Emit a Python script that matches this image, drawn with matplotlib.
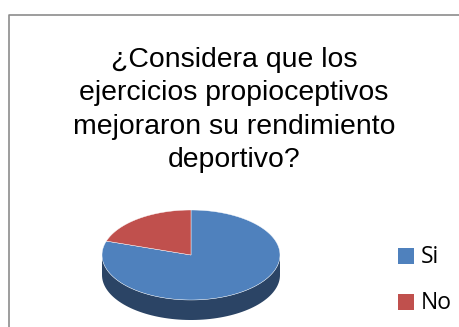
import numpy as np
import matplotlib
matplotlib.use("Agg")
import matplotlib.pyplot as plt
from matplotlib.patches import Polygon, Rectangle

# --- data ---------------------------------------------------------------
labels = ["Si", "No"]
values = [80, 20]
colors = ["#4f81bd", "#c0504d"]
side_colors = ["#2b4465", "#7d3432"]
title = "¿Considera que los\nejercicios propioceptivos\nmejoraron su rendimiento\ndeportivo?"

# figure in pixel coordinates (y grows downward)
fig = plt.figure(figsize=(4.6, 3.27), dpi=100)
ax = fig.add_axes([0, 0, 1, 1])
ax.set_xlim(0, 460)
ax.set_ylim(327, 0)
ax.axis("off")

# chart border (only left and top visible in the crop)
ax.plot([9.5, 9.5, 460], [327, 14.5, 14.5], color="#8c8c8c", lw=1.2)

ax.text(234, 110, title, ha="center", va="center", fontsize=20.4,
        family="Liberation Sans", linespacing=1.38, color="#000000")

# --- 3D pie -------------------------------------------------------------
cx, cy, rx, ry, depth = 191, 255, 89, 45, 20
fracs = np.array(values, dtype=float) / sum(values)
# Si drawn clockwise from 12 o'clock, No fills the rest
start = 90.0
angles = []
for f in fracs:
    end = start - f * 360
    angles.append((start, end))
    start = end


def ell(t, dy=0):
    t = np.radians(t)
    return np.column_stack([cx + rx * np.cos(t), cy - ry * np.sin(t) + dy])


# side walls: only the front half (angles -180..0) is visible
for (a0, a1), sc in zip(angles, side_colors):
    lo, hi = min(a0, a1), max(a0, a1)
    segs = []
    for off in (0, -360, 360):
        s, e = max(lo + off, -180), min(hi + off, 0)
        if e > s:
            segs.append((s, e))
    for s, e in segs:
        t = np.linspace(s, e, 80)
        top = ell(t)
        bot = ell(t[::-1], depth)
        ax.add_patch(Polygon(np.vstack([top, bot]), closed=True,
                             facecolor=sc, edgecolor="none"))

# top faces
for (a0, a1), c in zip(angles, colors):
    t = np.linspace(a0, a1, 200)
    pts = np.vstack([[cx, cy], ell(t)])
    ax.add_patch(Polygon(pts, closed=True, facecolor=c, edgecolor="white", lw=0.3))

# --- legend -------------------------------------------------------------
for i, (lab, c) in enumerate(zip(labels, colors)):
    y = 256 + i * 46
    ax.add_patch(Rectangle((398, y - 8), 16, 16, facecolor=c, edgecolor="none"))
    ax.text(421, y + 1, lab, ha="left", va="center", fontsize=16.5,
            family="Open Sans", color="#000000")

fig.savefig("out.png", dpi=100)
